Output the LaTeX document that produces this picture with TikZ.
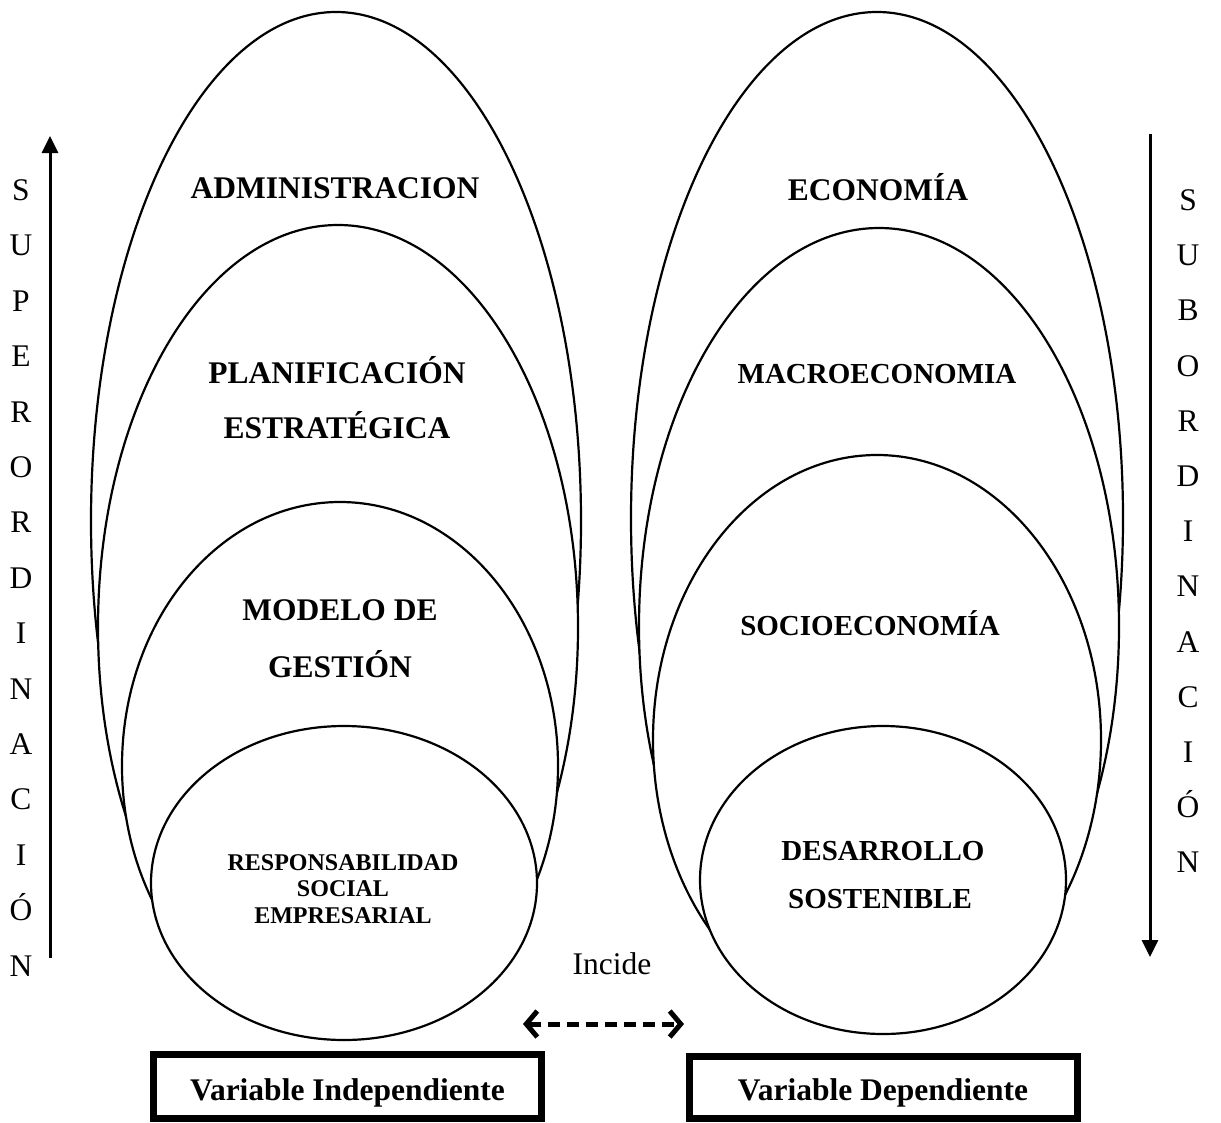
\documentclass[tikz,border=0pt]{standalone}
\usepackage{fontspec}
\setmainfont{Liberation Serif}
\usetikzlibrary{arrows.meta}

\tikzset{
  capa/.style={draw=black, line width=2.2pt, fill=white},
  titulo/.style={font=\fontsize{31.5}{38}\selectfont\bfseries, anchor=base, inner sep=0pt},
  titulochico/.style={font=\fontsize{29}{35}\selectfont\bfseries, anchor=base, inner sep=0pt},
  titulomini/.style={font=\fontsize{24}{29}\selectfont\bfseries, anchor=base, inner sep=0pt},
  letra/.style={font=\fontsize{31.5}{38}\selectfont, anchor=base, inner sep=0pt},
  caja/.style={draw=black, line width=7pt, minimum width=388pt, minimum height=64pt, inner sep=0pt},
  flecha/.style={line width=3pt, -{Triangle[length=17pt,width=16pt]}},
  doble/.style={line width=5pt, dash pattern=on 12pt off 7pt,
    {Straight Barb[length=11pt,width=26pt]}-{Straight Barb[length=11pt,width=26pt]}},
}

\begin{document}
\begin{tikzpicture}[x=1pt,y=-1pt]
        \useasboundingbox (0,0) rectangle (1221,1122);

            % variable independiente
            \draw [capa] (336,521) ellipse [x radius=245pt, y radius=509pt];
            \draw [capa] (338,627.5) ellipse [x radius=240pt, y radius=402.5pt];
            \draw [capa] (340,766) ellipse [x radius=218pt, y radius=264pt];
            \draw [capa] (344,883) ellipse [x radius=193pt, y radius=157pt];

            \node [titulo] (admin) at (335,198) {ADMINISTRACION};
            \node [titulo] (plan) at (337,383) {PLANIFICACIÓN};
            \node [titulo] (estr) at (337,438) {ESTRATÉGICA};
            \node [titulo] (modelo) at (340,620) {MODELO DE};
            \node [titulo] (gestion) at (340,677) {GESTIÓN};
            \node [titulomini] (resp) at (343,870) {RESPONSABILIDAD};
            \node [titulomini] (social) at (343,896) {SOCIAL};
            \node [titulomini] (empr) at (343,923) {EMPRESARIAL};

            % variable dependiente
            \draw [capa] (877,518.5) ellipse [x radius=246pt, y radius=506.5pt];
            \draw [capa] (879,626.5) ellipse [x radius=240pt, y radius=398.5pt];
            \draw [capa] (877,740) ellipse [x radius=224pt, y radius=285pt];
            \draw [capa] (883,880) ellipse [x radius=183pt, y radius=154pt];

            \node [titulo] (econ) at (878,200) {ECONOMÍA};
            \node [titulochico] (macro) at (877,383) {MACROECONOMIA};
            \node [titulochico] (socio) at (870,635) {SOCIOECONOMÍA};
            \node [titulochico] (desa) at (883,860) {DESARROLLO};
            \node [titulochico] (sost) at (880,908) {SOSTENIBLE};

            % flechas laterales
            \coordinate (supA) at (50,958);
            \coordinate (supB) at (50,136);
            \draw [flecha] (supA) -- (supB);
            \foreach \l [count=\i from 0] in {S,U,P,E,R,O,R,D,I,N,A,C,I,Ó,N}
                \node [letra] (sup\i) at (21,{200.4+55.4*\i}) {\l};

            \coordinate (subA) at (1150,134);
            \coordinate (subB) at (1150,957);
            \draw [flecha] (subA) -- (subB);
            \foreach \l [count=\i from 0] in {S,U,B,O,R,D,I,N,A,C,I,Ó,N}
                \node [letra] (sub\i) at (1188,{210.4+55.2*\i}) {\l};

            % incide
            \node [letra] (incide) at (612,974) {Incide};
            \coordinate (izq) at (523,1024);
            \coordinate (der) at (684,1024);
            \draw [doble] (izq) -- (der);

            % cajas
            \node [caja] (vi) at (347.5,1086) {};
            \node [titulo] (vitxt) at (347.5,1100) {Variable Independiente};
            \node [caja, minimum height=62pt] (vd) at (883,1087.5) {};
            \node [titulo] (vdtxt) at (883,1100) {Variable Dependiente};

        \end{tikzpicture}
\end{document}
